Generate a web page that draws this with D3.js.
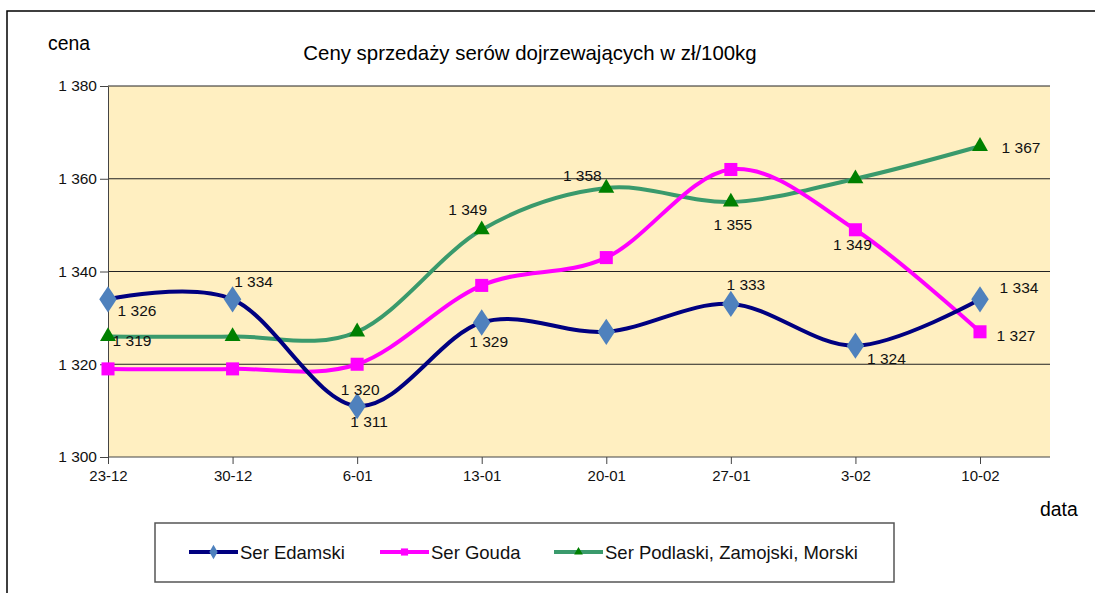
<!DOCTYPE html>
<html>
<head>
<meta charset="utf-8">
<script src="https://cdn.jsdelivr.net/npm/d3@7"></script>
<style>
  body { margin: 0; background: #fff; }
  svg { display: block; font-family: "Liberation Sans", Arial, sans-serif; }
</style>
</head>
<body>
<svg id="chart" width="1095" height="593"></svg>
<script>
// Chart data
const dates = ["23-12", "30-12", "6-01", "13-01", "20-01", "27-01", "3-02", "10-02"];
const edamski = [1334, 1334, 1311, 1329, 1327, 1333, 1324, 1334];
const gouda = [1319, 1319, 1320, 1337, 1343, 1362, 1349, 1327];
const podlaski = [1326, 1326, 1327, 1349, 1358, 1355, 1360, 1367];
const yTicks = [1300, 1320, 1340, 1360, 1380];
const seriesNames = ["Ser Edamski", "Ser Gouda", "Ser Podlaski, Zamojski, Morski"];

// which points carry a value label
const edamskiLabelled = [1, 2, 3, 5, 6, 7];
const goudaLabelled = [0, 2, 6, 7];
const podlaskiLabelled = [0, 3, 4, 5, 7];

const svg = d3.select("#chart");

// outer frame (runs off the picture at right and bottom)
svg.append("rect")
  .attr("x", 7).attr("y", 11)
  .attr("width", 1200).attr("height", 700)
  .attr("fill", "none").attr("stroke", "#000").attr("stroke-width", 1.5);

const plotL = 108, plotR = 1050, plotT = 86, plotB = 457;

let x = d3.scalePoint().domain(dates).range([plotL, 980]);
let y = d3.scaleLinear().domain([1300, 1380]).range([plotB, plotT]);

// plot background
svg.append("rect")
  .attr("x", plotL).attr("y", plotT)
  .attr("width", plotR - plotL).attr("height", plotB - plotT)
  .attr("fill", "#FFEFC1");

// gridlines
svg.append("g")
  .selectAll("line")
  .data(yTicks.slice(1))
  .enter()
  .append("line")
  .attr("x1", plotL).attr("x2", plotR)
  .attr("y1", d => y(d)).attr("y2", d => y(d))
  .attr("stroke", "#222").attr("stroke-width", 1);

const fmt = v => d3.format(",")(v).replace(",", " ");

// y axis
const yAxis = svg.append("g")
  .attr("transform", `translate(${plotL},0)`)
  .call(d3.axisLeft(y).tickValues(yTicks).tickFormat(fmt).tickSize(8).tickSizeOuter(0));
yAxis.select(".domain").attr("stroke", "#444");
yAxis.selectAll(".tick line").attr("stroke", "#444");
yAxis.selectAll(".tick text")
  .attr("x", -11)
  .style("font-size", "15.5px").attr("fill", "#111");

// x axis
svg.append("line")
  .attr("x1", plotL).attr("x2", plotR)
  .attr("y1", plotB).attr("y2", plotB)
  .attr("stroke", "#444");
const xAxis = svg.append("g")
  .attr("transform", `translate(0,${plotB})`)
  .call(d3.axisBottom(x).tickSize(7).tickSizeOuter(0));
xAxis.select(".domain").remove();
xAxis.selectAll(".tick line").attr("stroke", "#444");
xAxis.selectAll(".tick text")
  .attr("y", 13)
  .style("font-size", "15px").attr("fill", "#111");

// titles
svg.append("text")
  .attr("x", 530).attr("y", 60)
  .attr("text-anchor", "middle")
  .style("font-size", "20.4px")
  .text("Ceny sprzedaży serów dojrzewających w zł/100kg");

svg.append("text")
  .attr("x", 48).attr("y", 50)
  .style("font-size", "19.4px")
  .text("cena");

svg.append("text")
  .attr("x", 1040).attr("y", 516)
  .style("font-size", "19.4px")
  .text("data");

// series
const series = [
  { name: seriesNames[0], values: edamski, labelled: edamskiLabelled,
    line: "#000080", marker: "#4F81BD", shape: d3.symbolDiamond, size: 200,
    offsets: { 1: [21, -18], 2: [12, 16], 3: [7, 19], 5: [15, -19], 6: [31, 13], 7: [39, -12] } },
  { name: seriesNames[1], values: gouda, labelled: goudaLabelled,
    line: "#FF00FF", marker: "#FF00FF", shape: d3.symbolSquare, size: 170,
    offsets: { 0: [24, -28], 2: [3, 25], 6: [-3, 15], 7: [36, 4] } },
  { name: seriesNames[2], values: podlaski, labelled: podlaskiLabelled,
    line: "#3A9A6C", marker: "#008000", shape: d3.symbolTriangle, size: 110,
    offsets: { 0: [29, -26], 3: [-14, -20], 4: [-24, -13], 5: [2, 23], 7: [41, 1] } }
];

const line = d3.line()
  .x((d, i) => x(dates[i]))
  .y(d => y(d))
  .curve(d3.curveCardinal.tension(0));

// draw lines from last to first so Edamski ends up on top
const drawOrder = [series[2], series[1], series[0]];

drawOrder.forEach(s => {
  svg.append("path")
    .datum(s.values)
    .attr("d", line)
    .attr("fill", "none")
    .attr("stroke", s.line)
    .attr("stroke-width", 4)
    .attr("stroke-linejoin", "round");
});

drawOrder.forEach(s => {
  svg.append("g")
    .selectAll("path")
    .data(s.values)
    .enter()
    .append("path")
    .attr("transform", (d, i) => `translate(${x(dates[i])},${y(d)})` + (s.shape === d3.symbolDiamond ? " scale(1.15,1)" : ""))
    .attr("d", d3.symbol().type(s.shape).size(s.size))
    .attr("fill", s.marker);
});

// value labels
series.forEach(s => {
  svg.append("g")
    .selectAll("text")
    .data(s.labelled)
    .enter()
    .append("text")
    .attr("x", i => x(dates[i]) + s.offsets[i][0])
    .attr("y", i => y(s.values[i]) + s.offsets[i][1] + 5.5)
    .attr("text-anchor", "middle")
    .style("font-size", "15.5px")
    .attr("fill", "#111")
    .text(i => fmt(s.values[i]));
});

// legend
const legend = svg.append("g");
legend.append("rect")
  .attr("x", 155).attr("y", 523)
  .attr("width", 739).attr("height", 59)
  .attr("fill", "#fff").attr("stroke", "#555").attr("stroke-width", 1.5);

const legendX = [189, 380, 554];
series.forEach((s, k) => {
  const lx = legendX[k], ly = 552;
  legend.append("line")
    .attr("x1", lx).attr("x2", lx + 49)
    .attr("y1", ly).attr("y2", ly)
    .attr("stroke", s.line).attr("stroke-width", 4);
  legend.append("path")
    .attr("transform", `translate(${lx + 24.5},${ly})`)
    .attr("d", d3.symbol().type(s.shape).size(s.size * 0.3))
    .attr("fill", s.marker);
  legend.append("text")
    .attr("x", lx + 51).attr("y", ly + 7)
    .style("font-size", "18.5px")
    .attr("fill", "#111")
    .text(s.name);
});
</script>
</body>
</html>
